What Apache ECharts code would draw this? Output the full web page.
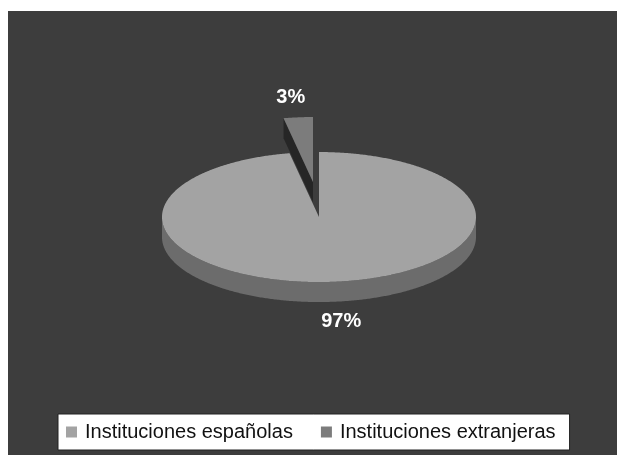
<!DOCTYPE html>
<html>
<head>
<meta charset="utf-8">
<title>Instituciones</title>
<script src="https://cdn.jsdelivr.net/npm/echarts@6/dist/echarts.min.js"></script>
<style>
  html,body{margin:0;padding:0;background:#fff;}
  #pie{width:617px;height:455px;}
</style>
</head>
<body>
<div id="pie"></div>
<script>
// data
const categories = ['Instituciones españolas', 'Instituciones extranjeras'];
const values = [97, 3];
const pctLabels = ['97%', '3%'];
const exploded = [false, true];

// colours: top face, side wall, cut face
const topColors = ['#a3a3a3', '#7c7c7c'];
const sideColors = ['#6c6c6c', '#4a4a4a'];
const cutColors = ['#555555', '#262626'];

const total = values.reduce((a, b) => a + b, 0);

// geometry of the flattened pie (fractions of the chart size)
const geo = {cx: 0.517, cy: 0.477, rx: 157, ry: 65, depth: 20, exDx: -6, exDy: -35};

function rad(d){ return d * Math.PI / 180; }

// angles (math degrees) of slice i, starting at 12 o'clock and going clockwise
function sliceAngles(i){
    let before = 0;
    for(let k = 0; k < i; k++) before += values[k];
    const hi = 90 - before / total * 360;
    const lo = 90 - (before + values[i]) / total * 360;
    return [hi, lo];
}

function renderSlice(i, api){
    const w = api.getWidth(), h = api.getHeight();
    let cx = w * geo.cx, cy = h * geo.cy;
    if(exploded[i]){ cx += geo.exDx; cy += geo.exDy; }
    const rx = geo.rx, ry = geo.ry, d = geo.depth;
    const [hi, lo] = sliceAngles(i);
    const pt = (a, dz) => [cx + rx * Math.cos(rad(a)), cy - ry * Math.sin(rad(a)) + (dz || 0)];

    const children = [];

    // side wall: only the parts facing the viewer (lower half of the ellipse)
    let run = [];
    const flush = () => {
        if(run.length > 1){
            const pts = run.map(a => pt(a, 0)).concat(run.slice().reverse().map(a => pt(a, d)));
            children.push({type: 'polygon', shape: {points: pts}, style: {fill: sideColors[i]}});
        }
        run = [];
    };
    const steps = Math.max(2, Math.ceil((hi - lo) * 2));
    for(let s = 0; s <= steps; s++){
        const a = hi - (hi - lo) * s / steps;
        if(Math.sin(rad(a)) < 0.0001) run.push(a); else flush();
    }
    flush();

    // cut faces of a slice pulled out of the pie
    if(exploded[i]){
        if(Math.cos(rad(hi)) < 0){
            const e = pt(hi, 0);
            children.push({type: 'polygon', shape: {points: [[cx, cy], e, [e[0], e[1] + d], [cx, cy + d]]}, style: {fill: cutColors[i]}});
        }
        if(Math.cos(rad(lo)) > 0){
            const e = pt(lo, 0);
            children.push({type: 'polygon', shape: {points: [[cx, cy], e, [e[0], e[1] + d], [cx, cy + d]]}, style: {fill: cutColors[i]}});
        }
    }

    // top face
    const top = [[cx, cy]];
    for(let s = 0; s <= steps; s++) top.push(pt(hi - (hi - lo) * s / steps, 0));
    children.push({type: 'polygon', shape: {points: top}, style: {fill: topColors[i]}});

    // percentage label outside the slice
    const mid = rad((hi + lo) / 2);
    const lx = cx + rx * 1.5 * Math.cos(mid);
    const ly = cy - (ry + 20) * Math.sin(mid) + (Math.sin(mid) < 0 ? d : 0);
    children.push({
        type: 'text',
        style: {
            text: pctLabels[i], x: lx, y: ly, fill: '#ffffff',
            fontFamily: 'Liberation Sans, Arial, sans-serif', fontSize: 20, fontWeight: 'bold',
            align: 'center', verticalAlign: 'middle'
        }
    });
    return {type: 'group', children: children};
}

const myChart = echarts.init(document.getElementById('pie'));

const option = {
    animation: false,
    backgroundColor: '#ffffff',
    graphic: [{
        type: 'rect', left: 8, top: 11, z: -10,
        shape: {width: 609, height: 444},
        style: {fill: '#3d3d3d'}
    }],
    legend: {
        data: categories,
        left: 58,
        top: 414,
        orient: 'horizontal',
        icon: 'rect',
        itemWidth: 11,
        itemHeight: 11,
        itemGap: 28,
        padding: [8, 14, 8, 8],
        backgroundColor: '#ffffff',
        borderColor: '#222222',
        borderWidth: 1,
        selectedMode: false,
        textStyle: {
            fontFamily: 'Liberation Sans, Arial, sans-serif',
            fontSize: 20,
            color: '#111111',
            padding: [0, 0, 0, 3]
        }
    },
    series: []
};

// pulled-out slices first so the rest of the pie covers them
categories.forEach((name, i) => {
    option.series.push({
        type: 'custom',
        name: name,
        coordinateSystem: 'none',
        z: exploded[i] ? 1 : 2,
        itemStyle: {color: topColors[i]},
        data: [values[i]],
        renderItem: (params, api) => renderSlice(i, api)
    });
});

myChart.setOption(option);
</script>
</body>
</html>
